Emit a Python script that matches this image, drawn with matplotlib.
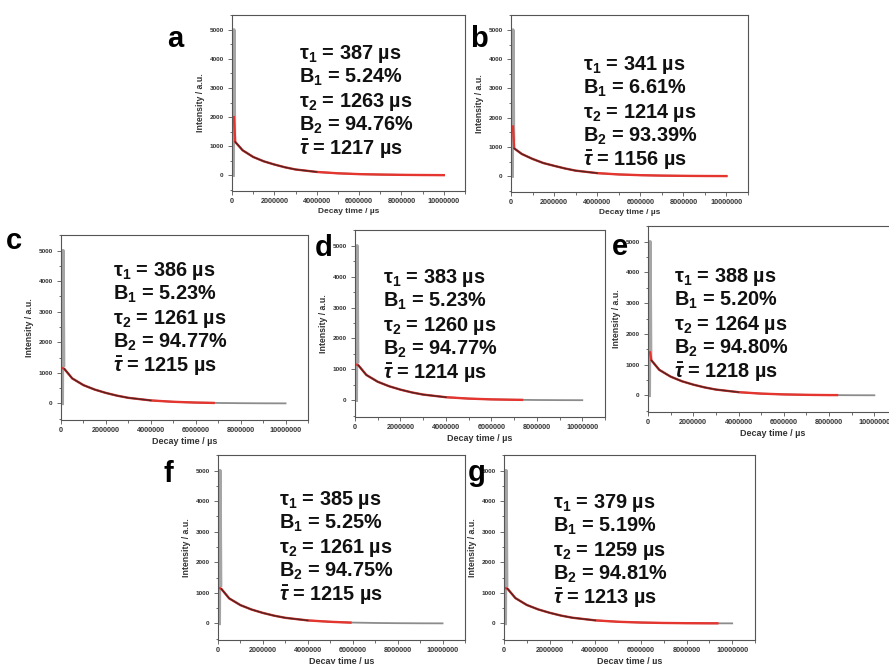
import numpy as np
import matplotlib
matplotlib.use('Agg')
import matplotlib.pyplot as plt
from matplotlib.ticker import MultipleLocator

# Parâmetros do ajuste biexponencial de cada amostra
panel_labels = ['a', 'b', 'c', 'd', 'e', 'f', 'g']
tau1 = [387, 341, 386, 383, 388, 385, 379]
b1 = [5.24, 6.61, 5.23, 5.23, 5.20, 5.25, 5.19]
tau2 = [1263, 1214, 1261, 1260, 1264, 1261, 1259]
b2 = [94.76, 93.39, 94.77, 94.77, 94.80, 94.75, 94.81]
tau_avg = [1217, 1156, 1215, 1214, 1218, 1215, 1213]

# Pulso inicial (dados brutos)
spike_time = [60000, 90000, 120000]
spike_intensity = [0, 5000, 1250]

# Curvas de decaimento
decay_time = [1.5e5, 5e5, 1e6, 1.5e6, 2e6, 2.5e6, 3e6, 4e6, 5e6, 6e6, 7e6, 8e6, 9e6, 1e7]
intensity = [
    [1150, 860, 630, 480, 370, 275, 200, 115, 68, 40, 25, 15, 9, 5],
    [950, 760, 590, 450, 355, 265, 190, 105, 60, 35, 20, 12, 7, 4],
    [1130, 820, 600, 455, 345, 255, 185, 100, 55, 30, 17, 10, 6, 4],
    [1130, 820, 600, 455, 345, 255, 185, 100, 55, 30, 17, 10, 6, 4],
    [1140, 830, 610, 460, 350, 260, 190, 105, 58, 32, 18, 10, 6, 4],
    [1130, 820, 600, 455, 345, 255, 185, 100, 55, 30, 17, 10, 6, 4],
    [1140, 830, 605, 460, 350, 258, 188, 102, 56, 31, 17, 10, 6, 4],
]

# Início e fim da curva ajustada (vermelha)
fit_start = [2000, 1700, 1150, 1150, 1400, 1150, 1150]
fit_end_time = [1e7, 1e7, 6.8e6, 7.35e6, 8.35e6, 5.9e6, 9.35e6]
fit_end_value = [5, 4, 18, 14, 10, 28, 6]

# Caixas dos eixos em pixels: esquerda, topo, direita, base
W, H = 889, 664
boxes = [
    (232, 15, 465, 191),
    (511, 15, 748, 192),
    (61, 235, 308, 420),
    (355, 230, 605, 417),
    (648, 226, 897, 412),
    (218, 455, 465, 640),
    (504, 455, 755, 640),
]
letter_pos = [(167, 47), (470, 47), (6, 249), (315, 256), (612, 255), (163, 482), (468, 481)]
text_pos = [(299, 59), (583, 70), (113, 276), (383, 283), (674, 282), (279, 505), (553, 508)]
line_step = 24

plt.rcParams['mathtext.fontset'] = 'custom'
plt.rcParams['mathtext.rm'] = 'Liberation Sans:bold'
plt.rcParams['mathtext.it'] = 'Liberation Sans:bold:italic'
plt.rcParams['mathtext.bf'] = 'Liberation Sans:bold'
plt.rcParams['mathtext.default'] = 'rm'
plt.rcParams['font.family'] = ['Liberation Sans', 'DejaVu Sans']

fig = plt.figure(figsize=(W / 100, H / 100), dpi=100)

for i, lab in enumerate(panel_labels):
    l, t, r, b = boxes[i]
    ax = fig.add_axes([l / W, 1 - b / H, (r - l) / W, (b - t) / H])

    # pulso inicial e dados brutos
    ax.plot(spike_time, spike_intensity, color='#a5a5a5', lw=2.4, zorder=1)
    ax.plot(decay_time, intensity[i], color='#8c8c8c', lw=1.3, zorder=1)

    # curva ajustada
    ft = [spike_time[1]] + [x for x in decay_time if x < fit_end_time[i]] + [fit_end_time[i]]
    fi = [fit_start[i]] + [y for x, y in zip(decay_time, intensity[i]) if x < fit_end_time[i]] + [fit_end_value[i]]
    ax.plot(ft, fi, color='#e5352f', lw=1.7, zorder=2)

    # parte inicial mais ruidosa dos dados
    ax.plot(decay_time[:8], intensity[i][:8], color='#1e1e1e', lw=1.0, alpha=0.75, zorder=3)

    ax.set_xlim(0, 1.1e7)
    ax.set_ylim(-540, 5510)
    ax.xaxis.set_minor_locator(MultipleLocator(1e6))
    ax.yaxis.set_major_locator(MultipleLocator(1000))
    ax.yaxis.set_minor_locator(MultipleLocator(500))
    xt = np.arange(0, 1.01e7, 2e6)
    ax.set_xticks(xt)
    ax.set_xticklabels([f'{int(v)}' for v in xt])
    ax.tick_params(which='both', direction='out', color='#555555', width=0.6,
                   labelcolor='#333333', top=False, right=False)
    ax.tick_params(which='major', length=3)
    ax.tick_params(which='minor', length=1.8)
    ax.tick_params(axis='x', labelsize=5.2, pad=2)
    ax.tick_params(axis='y', labelsize=4.6, pad=3)
    for lbl in ax.get_xticklabels() + ax.get_yticklabels():
        lbl.set_fontweight('bold')
    for sp in ax.spines.values():
        sp.set_color('#555555')
        sp.set_linewidth(0.8)

    lsize = 6 if i < 2 else 6.5
    ax.set_xlabel('Decay time / µs', fontsize=lsize, fontweight='bold', color='#333333', labelpad=2)
    ax.set_ylabel('Intensity / a.u.', fontsize=6.3, fontweight='bold', color='#333333', labelpad=3)

    fig.text(letter_pos[i][0] / W, 1 - letter_pos[i][1] / H, lab, fontsize=21,
             fontweight='bold', va='baseline', ha='left')

    lines = [
        f'τ$_1$ = {tau1[i]} µs',
        f'B$_1$ = {b1[i]:.2f}%',
        f'τ$_2$ = {tau2[i]} µs',
        f'B$_2$ = {b2[i]:.2f}%',
        r'$\bar{\mathit{\tau}}$' + f' = {tau_avg[i]} µs',
    ]
    x0, y0 = text_pos[i]
    for k, s in enumerate(lines):
        fig.text(x0 / W, 1 - (y0 + k * line_step) / H, s, fontsize=14.3,
                 fontweight='bold', va='baseline', ha='left', color='#111111')

fig.savefig('out.png', dpi=100)
